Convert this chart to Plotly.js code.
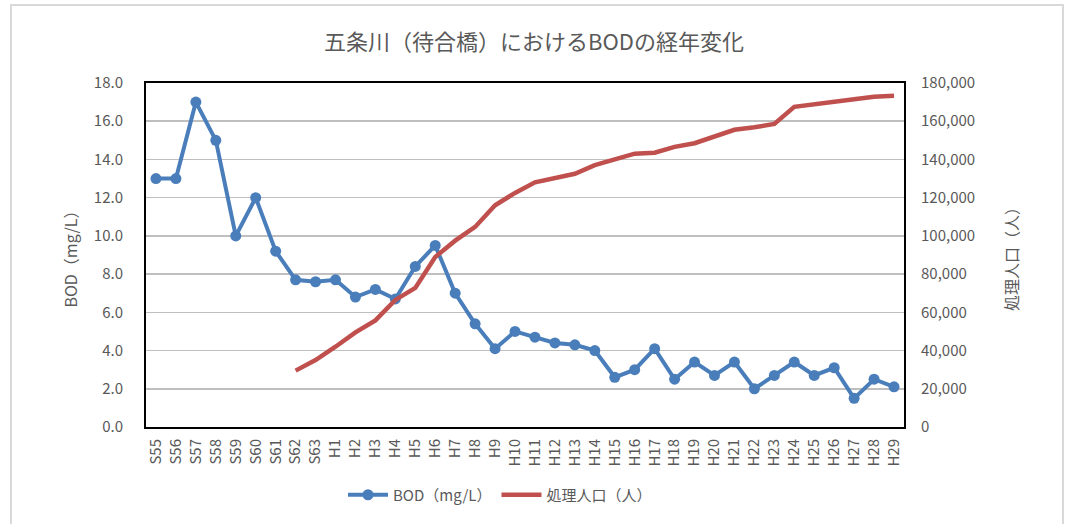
<!DOCTYPE html>
<html>
<head>
<meta charset="utf-8">
<script src="https://cdn.plot.ly/plotly-3.0.1.min.js"></script>
<style>html,body{margin:0;padding:0;background:#fff;}#chart{width:1068px;height:524px;}</style>
</head>
<body>
<div id="chart"></div>
<script>
const years = ["S55","S56","S57","S58","S59","S60","S61","S62","S63",
  "H1","H2","H3","H4","H5","H6","H7","H8","H9","H10","H11","H12","H13","H14","H15","H16","H17","H18","H19","H20","H21","H22","H23","H24","H25","H26","H27","H28","H29"];
const bod = [13.0,13.0,17.0,15.0,10.0,12.0,9.2,7.7,7.6,
  7.7,6.8,7.2,6.7,8.4,9.5,7.0,5.4,4.1,5.0,4.7,4.4,4.3,4.0,2.6,3.0,4.1,2.5,3.4,2.7,3.4,2.0,2.7,3.4,2.7,3.1,1.5,2.5,2.1];
const population = [null,null,null,null,null,null,null,29500,35000,
  42000,49500,55800,66500,72800,89000,97500,104700,116000,122500,128000,130200,132500,137000,140000,143000,143500,146600,148500,151800,155500,156800,158600,167500,169000,170000,171500,172800,173300];
const bodName = "BOD（mg/L）";
const popName = "処理人口（人）";

const font = "'Noto Sans CJK JP', 'Noto Sans', sans-serif";
const textColor = "#595959";

const traces = [
  {x: years, y: bod, name: bodName, type: "scatter", mode: "lines+markers",
   line: {color: "#4A7EBB", width: 4}, marker: {color: "#4A7EBB", size: 11, symbol: "circle"}, yaxis: "y"},
  {x: years, y: population, name: popName, type: "scatter", mode: "lines",
   line: {color: "#C0504D", width: 4.5}, yaxis: "y2", connectgaps: false}
];

const layout = {
  width: 1068, height: 524,
  margin: {l: 146, r: 164, t: 83, b: 97},
  paper_bgcolor: "#ffffff", plot_bgcolor: "#ffffff",
  font: {family: font, color: textColor, size: 14},
  title: {text: "五条川（待合橋）におけるBODの経年変化", font: {family: font, size: 22, color: textColor},
          x: 534/1068, xref: "container", xanchor: "center", y: 1 - 42/524, yref: "container", yanchor: "middle"},
  xaxis: {type: "category", range: [-0.5, years.length - 0.5], tickangle: -90, showgrid: false, zeroline: false,
          tickfont: {family: font, size: 15, color: textColor}, ticks: "", ticklabelstandoff: 4,
          showline: true, linecolor: "#000000", linewidth: 2, mirror: true},
  yaxis: {range: [0, 18], dtick: 2, tickformat: ".1f", showgrid: true, gridcolor: "#BFBFBF", gridwidth: 1.5,
          zeroline: false, tickfont: {family: font, size: 15, color: textColor}, ticks: "", ticklabelstandoff: 18,
          showline: true, linecolor: "#000000", linewidth: 2, mirror: true,
          title: {text: bodName, font: {family: font, size: 16, color: textColor}, standoff: 12}},
  yaxis2: {range: [0, 180000], dtick: 20000, tickformat: ",d", overlaying: "y", side: "right", showgrid: false,
          zeroline: false, tickfont: {family: font, size: 15, color: textColor}, ticks: "", ticklabelstandoff: 16,
          title: {text: popName, font: {family: font, size: 16, color: textColor}, standoff: 32}},
  legend: {orientation: "h", x: (500-146)/758, xanchor: "center", y: (427-495)/344, yanchor: "middle",
           font: {family: font, size: 15, color: textColor}, itemwidth: 40, traceorder: "normal"},
  showlegend: true,
  shapes: [
    {type: "rect", xref: "paper", yref: "paper", x0: (11-146)/758, x1: (1063-146)/758,
     y0: (427-530)/344, y1: (427-5)/344, line: {color: "#D9D9D9", width: 2}, layer: "below"}
  ]
};

Plotly.newPlot("chart", traces, layout, {displayModeBar: false, staticPlot: true});
</script>
</body>
</html>
